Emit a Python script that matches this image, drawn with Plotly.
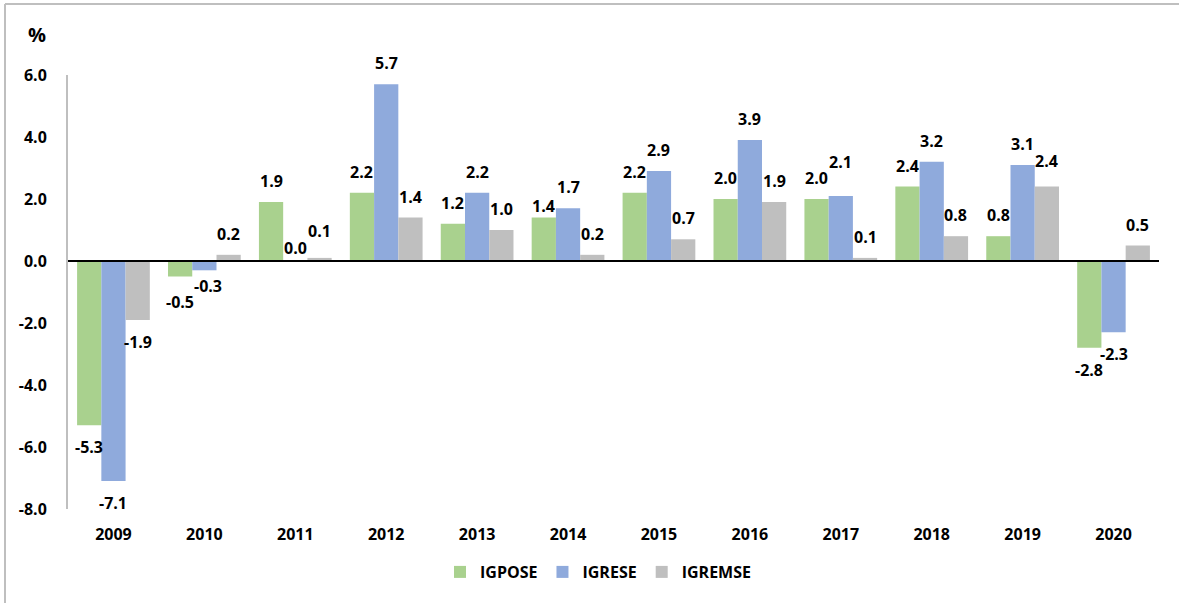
import plotly.graph_objects as go

years = ["2009", "2010", "2011", "2012", "2013", "2014", "2015", "2016", "2017", "2018", "2019", "2020"]
igpose = [-5.3, -0.5, 1.9, 2.2, 1.2, 1.4, 2.2, 2.0, 2.0, 2.4, 0.8, -2.8]
igrese = [-7.1, -0.3, 0.0, 5.7, 2.2, 1.7, 2.9, 3.9, 2.1, 3.2, 3.1, -2.3]
igremse = [-1.9, 0.2, 0.1, 1.4, 1.0, 0.2, 0.7, 1.9, 0.1, 0.8, 2.4, 0.5]
series_names = ["IGPOSE", "IGRESE", "IGREMSE"]
y_ticks = [-8, -6, -4, -2, 0, 2, 4, 6]

colors = ["#A9D18E", "#8FAADC", "#BFBFBF"]
FONT = "Open Sans"
W, H = 1179, 603
L, R, T, B = 68, 20, 75, 94
plot_w = W - L - R
plot_h = H - T - B
bargap = 0.2
cat_w = plot_w / len(years)
bar_w = cat_w * (1 - bargap) / 3

# label placement (pixel offsets from bar end), default and a few adjusted ones
POS_SHIFT, NEG_SHIFT = 21, -22
label_shift = {
    ("IGPOSE", "2010"): (0, -25),
    ("IGRESE", "2010"): (4, -16),
    ("IGRESE", "2011"): (0, 13),
    ("IGREMSE", "2011"): (0, 27),
    ("IGPOSE", "2014"): (0, 12),
    ("IGRESE", "2017"): (0, 34),
    ("IGREMSE", "2019"): (0, 26),
}

fig = go.Figure()
all_series = [igpose, igrese, igremse]
for name, vals, col in zip(series_names, all_series, colors):
    fig.add_trace(go.Bar(
        x=years, y=vals, name=name,
        marker=dict(color=col, line=dict(width=0)),
        hoverinfo="skip",
    ))

annotations = []
for i, (name, vals) in enumerate(zip(series_names, all_series)):
    for j, (yr, v) in enumerate(zip(years, vals)):
        dx, dy = label_shift.get((name, yr), (0, POS_SHIFT if v >= 0 else NEG_SHIFT))
        annotations.append(dict(
            x=j, y=v, xref="x", yref="y",
            text=f"{v:.1f}", showarrow=False,
            xanchor="center", yanchor="middle",
            xshift=(i - 1) * bar_w + dx,
            yshift=dy,
            font=dict(family=FONT, size=16, color="#000000", weight="bold"),
        ))

annotations.append(dict(
    x=(37 - L) / plot_w, y=(H - B - 34) / plot_h, xref="paper", yref="paper",
    xanchor="center", yanchor="middle",
    text="%", showarrow=False,
    font=dict(family=FONT, size=20, color="#000000", weight="bold"),
))

fx0 = (5 - L) / plot_w
fx1 = (W + 5 - L) / plot_w
fy_top = (H - B - 4) / plot_h
fy_bot = (H - B - (H + 5)) / plot_h

fig.update_layout(
    width=W, height=H,
    margin=dict(l=L, r=R, t=T, b=B, autoexpand=False),
    paper_bgcolor="white", plot_bgcolor="white",
    barmode="group", bargap=bargap, bargroupgap=0,
    font=dict(family=FONT, size=16, color="#000000", weight="bold"),
    showlegend=True,
    legend=dict(
        orientation="h", x=(598 - L) / plot_w, xanchor="center",
        y=(H - B - 572) / plot_h, yanchor="middle",
        font=dict(family=FONT, size=16, color="#000000", weight="bold"),
        itemwidth=30, traceorder="normal",
    ),
    xaxis=dict(
        type="category", range=[-0.5, len(years) - 0.5],
        showline=False, showgrid=False, zeroline=False, ticks="",
        tickfont=dict(family=FONT, size=16, color="#000000", weight="bold"),
        ticklabelstandoff=14,
    ),
    yaxis=dict(
        range=[-8, 6], tickvals=y_ticks, ticktext=[f"{v:.1f}" for v in y_ticks],
        showgrid=False, zeroline=False, ticks="",
        showline=True, linecolor="#BFBFBF", linewidth=2,
        tickfont=dict(family=FONT, size=16, color="#000000", weight="bold"),
        ticklabelstandoff=16,
    ),
    annotations=annotations,
    shapes=[
        dict(type="line", xref="paper", yref="y", x0=0, x1=1, y0=0, y1=0,
             line=dict(color="#000000", width=2), layer="above"),
        dict(type="line", xref="paper", yref="paper", x0=fx0, x1=fx0, y0=fy_bot, y1=fy_top,
             line=dict(color="#BFBFBF", width=2), layer="above"),
        dict(type="line", xref="paper", yref="paper", x0=fx0, x1=fx1, y0=fy_top, y1=fy_top,
             line=dict(color="#BFBFBF", width=2), layer="above"),
    ],
)

fig.write_html("out.html", config={"displayModeBar": False},
               post_script="document.body.style.margin='0';")
